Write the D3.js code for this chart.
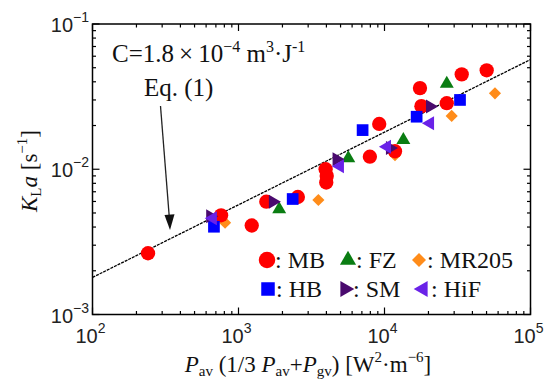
<!DOCTYPE html>
<html><head><meta charset="utf-8">
<script src="https://cdn.jsdelivr.net/npm/d3@7"></script>
<style>body{margin:0;background:#fff}svg{display:block}</style>
</head><body>
<script>
// ---- data ----
const mbX = [240, 760, 1232, 1550, 2550, 3950, 4020, 3990, 7940, 9200, 11800, 17500, 17900, 26700, 33800, 50100];
const mbY = [2.64e-3, 4.82e-3, 4.1e-3, 5.98e-3, 6.44e-3, 1.0e-2, 9.0e-3, 8.1e-3, 1.22e-2, 2.05e-2, 1.33e-2, 3.62e-2, 2.72e-2, 2.85e-2, 4.5e-2, 4.8e-2];
const fzX = [1900, 5650, 13460, 26700];
const fzY = [5.3e-3, 1.19e-2, 1.59e-2, 3.88e-2];
const mrX = [809, 3524, 11800, 28850, 57100];
const mrY = [4.29e-3, 6.14e-3, 1.25e-2, 2.33e-2, 3.33e-2];
const hbX = [679, 2350, 7080, 16600, 32900];
const hbY = [4.02e-3, 6.24e-3, 1.86e-2, 2.3e-2, 3.0e-2];
const smX = [640, 1720, 4700, 10900, 20500];
const smY = [4.75e-3, 5.98e-3, 1.17e-2, 1.4e-2, 2.7e-2];
const hifX = [667, 4950, 10400, 20500];
const hifY = [4.6e-3, 1.05e-2, 1.43e-2, 2.07e-2];
const seriesNames = ["MB", "FZ", "MR205", "HB", "SM", "HiF"];
const fitC = 1.8e-4;      // KLa = C * P^0.5
const fitExp = 0.5;
const xTickExps = [2, 3, 4, 5];
const yTickExps = [-3, -2, -1];

// ---- layout ----
const W = 547, H = 379;
const L = 92.5, R = 530.5, T = 24, B = 314.5;
const svg = d3.select("body").append("svg").attr("width", W).attr("height", H);
svg.append("rect").attr("width", W).attr("height", H).attr("fill", "#fff");

const x = d3.scaleLog().domain([1e2, 1e5]).range([L, R]);
const y = d3.scaleLog().domain([1e-3, 1e-1]).range([B, T]);

const colors = {MB: "#ff0000", FZ: "#0a7d12", MR205: "#ff8c1a", HB: "#0000ff", SM: "#4a0a6e", HiF: "#6a22e8"};

// ---- ticks (inward, all sides) ----
const tg = svg.append("g").attr("stroke", "#000").attr("stroke-width", 1.2);
const xt = [], yt = [];
for (let e = 2; e < 5; e++) for (let m = 1; m < 10; m++) xt.push({v: m * Math.pow(10, e), major: m === 1});
xt.push({v: 1e5, major: true});
for (let e = -3; e < -1; e++) for (let m = 1; m < 10; m++) yt.push({v: m * Math.pow(10, e), major: m === 1});
yt.push({v: 1e-1, major: true});
xt.forEach(t => {
  const px = x(t.v), len = t.major ? 7 : 3.5;
  tg.append("line").attr("x1", px).attr("x2", px).attr("y1", B).attr("y2", B - len);
  tg.append("line").attr("x1", px).attr("x2", px).attr("y1", T).attr("y2", T + len);
});
yt.forEach(t => {
  const py = y(t.v), len = t.major ? 7 : 3.5;
  tg.append("line").attr("x1", L).attr("x2", L + len).attr("y1", py).attr("y2", py);
  tg.append("line").attr("x1", R).attr("x2", R - len).attr("y1", py).attr("y2", py);
});

// ---- fit line ----
const line = d3.line().x(d => x(d)).y(d => y(fitC * Math.pow(d, fitExp)));
const xs = d3.range(2, 5.0001, 0.05).map(e => Math.pow(10, e));
svg.append("path").attr("d", line(xs)).attr("fill", "none").attr("stroke", "#000")
  .attr("stroke-width", 1.3).attr("stroke-dasharray", "3,1");

// ---- markers ----
function drawMarker(g, type, cx, cy, s, col) {
  if (type === "MB") g.append("circle").attr("cx", cx).attr("cy", cy).attr("r", s * 0.55).attr("fill", col);
  else if (type === "HB") g.append("rect").attr("x", cx - s * 0.45).attr("y", cy - s * 0.45).attr("width", s * 0.9).attr("height", s * 0.9).attr("fill", col);
  else if (type === "MR205") {
    g.append("rect").attr("x", cx - s*0.33).attr("y", cy - s*0.33).attr("width", s*0.66).attr("height", s*0.66)
      .attr("fill", col).attr("transform", `rotate(45,${cx},${cy})`);
  } else {
    const sym = d3.symbol().type(d3.symbolTriangle).size(s * s * 0.5);
    let rot = 0;
    if (type === "SM") rot = 90;
    if (type === "HiF") rot = -90;
    g.append("path").attr("d", sym()).attr("fill", col).attr("transform", `translate(${cx},${cy}) rotate(${rot})`);
  }
}
const series = [
  ["MR205", mrX, mrY], ["MB", mbX, mbY], ["FZ", fzX, fzY],
  ["HB", hbX, hbY], ["SM", smX, smY], ["HiF", hifX, hifY]
];
const mg = svg.append("g");
series.forEach(([name, xsArr, ysArr]) => {
  xsArr.forEach((v, i) => drawMarker(mg, name, x(v), y(ysArr[i]), 13, colors[name]));
});

// ---- frame ----
svg.append("rect").attr("x", L).attr("y", T).attr("width", R - L).attr("height", B - T)
  .attr("fill", "none").attr("stroke", "#000").attr("stroke-width", 1.5);

// ---- tick labels ----
const sans = "'Liberation Sans', Arial, sans-serif";
const serif = "'Liberation Serif', 'Times New Roman', serif";
xTickExps.forEach(e => {
  const t = svg.append("text").attr("x", x(Math.pow(10, e)) - 2).attr("y", 343)
    .attr("text-anchor", "middle").attr("font-family", sans).attr("font-size", 20).attr("fill", "#222");
  t.append("tspan").text("10");
  t.append("tspan").attr("dy", -10).attr("font-size", 14).text(e);
});
yTickExps.forEach(e => {
  const t = svg.append("text").attr("x", 89).attr("y", y(Math.pow(10, e)) + 8)
    .attr("text-anchor", "end").attr("font-family", sans).attr("font-size", 20).attr("fill", "#222");
  t.append("tspan").text("10");
  t.append("tspan").attr("dy", -10).attr("font-size", 14).text("\u2212" + (-e));
});

// ---- axis titles ----
const xl = svg.append("text").attr("x", 308).attr("y", 372).attr("text-anchor", "middle")
  .attr("font-family", serif).attr("font-size", 23).attr("fill", "#111");
xl.append("tspan").attr("font-style", "italic").text("P");
xl.append("tspan").attr("font-size", 15).attr("dy", 4).text("av");
xl.append("tspan").attr("dy", -4).text(" (1/3 ");
xl.append("tspan").attr("font-style", "italic").text("P");
xl.append("tspan").attr("font-size", 15).attr("dy", 4).text("av");
xl.append("tspan").attr("dy", -4).text("+");
xl.append("tspan").attr("font-style", "italic").text("P");
xl.append("tspan").attr("font-size", 15).attr("dy", 4).text("gv");
xl.append("tspan").attr("dy", -4).text(") [W");
xl.append("tspan").attr("font-size", 15).attr("dy", -10).text("2");
xl.append("tspan").attr("dy", 10).text("\u00b7m");
xl.append("tspan").attr("font-size", 15).attr("dy", -10).text("\u22126");
xl.append("tspan").attr("dy", 10).text("]");

const yl = svg.append("text").attr("transform", "translate(37,171) rotate(-90)").attr("text-anchor", "middle")
  .attr("font-family", serif).attr("font-size", 23).attr("fill", "#111");
yl.append("tspan").attr("font-style", "italic").text("K");
yl.append("tspan").attr("font-size", 15).attr("dy", 4).text("L");
yl.append("tspan").attr("dy", -4).attr("font-style", "italic").text("a");
yl.append("tspan").text(" [s");
yl.append("tspan").attr("font-size", 15).attr("dy", -10).text("\u22121");
yl.append("tspan").attr("dy", 10).text("]");

// ---- annotation ----
const an = svg.append("text").attr("x", 112).attr("y", 62).attr("font-family", serif)
  .attr("font-size", 25).attr("fill", "#111");
an.append("tspan").text("C=1.8\u2009\u00d7\u200910");
an.append("tspan").attr("font-size", 16).attr("dy", -10).text("\u22124");
an.append("tspan").attr("dy", 10).text(" m");
an.append("tspan").attr("font-size", 16).attr("dy", -10).text("3");
an.append("tspan").attr("dy", 10).text("\u00b7J");
an.append("tspan").attr("font-size", 16).attr("dy", -10).text("-1");
svg.append("text").attr("x", 144).attr("y", 96).attr("font-family", serif).attr("font-size", 25)
  .attr("fill", "#111").text("Eq. (1)");

// arrow
const ax0 = 160.5, ay0 = 106, ax1 = 170, ay1 = 230;
svg.append("line").attr("x1", ax0).attr("y1", ay0).attr("x2", ax1 - 0.8).attr("y2", ay1 - 14)
  .attr("stroke", "#222").attr("stroke-width", 1.3);
svg.append("path").attr("d", `M${ax1},${ay1} L${ax1 - 5.5},${ay1 - 15} L${ax1 + 4.5},${ay1 - 15.7} Z`).attr("fill", "#111");

// ---- legend ----
const lg = svg.append("g");
const legPos = [[267, 260], [348, 260], [419, 260], [268, 289], [345, 289], [423, 289]];
seriesNames.forEach((n, i) => {
  const [lx, ly] = legPos[i];
  drawMarker(lg, n, lx, ly, 15, colors[n]);
  lg.append("text").attr("x", lx + 8).attr("y", ly + 8).attr("font-family", serif).attr("font-size", 24)
    .attr("fill", "#111").text(": " + n);
});
</script>
</body></html>
